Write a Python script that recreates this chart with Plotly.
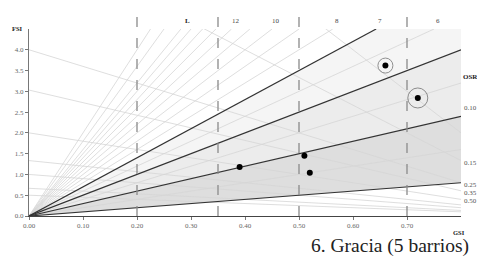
import plotly.graph_objects as go

# ---- data ----
gsi_max = 0.8
fsi_max = 4.5
dark_layers = [1, 3, 5, 7]                      # L lines bounding the shaded bands
light_layers = [2, 4, 6, 8, 9, 10, 11, 12, 13, 14, 15, 16, 18, 20]
top_labels = ["12", "10", "8", "7", "6"]
top_label_layers = [12, 10, 8, 7, 6]
osr_lines = [0.10, 0.15, 0.25, 0.33, 0.50, 0.75, 1.0, 1.5, 2.0]
osr_labels = ["0.10", "0.15", "0.25", "0.35", "0.50"]
dashed_gsi = [0.20, 0.35, 0.50, 0.70]
band_colors = ["#dedede", "#ececec", "#f5f5f5"]  # 1-3, 3-5, 5-7

pts_gsi = [0.39, 0.51, 0.52, 0.66, 0.72]
pts_fsi = [1.18, 1.45, 1.04, 3.62, 2.84]
circled_gsi = [0.66, 0.72]
circled_fsi = [3.62, 2.84]
circled_size = [15, 20]

x_ticks = [0.0, 0.1, 0.2, 0.3, 0.4, 0.5, 0.6, 0.7]
y_ticks = [0.0, 0.5, 1.0, 1.5, 2.0, 2.5, 3.0, 3.5, 4.0]

title_text = "6. Gracia (5 barrios)"

SERIF = "Liberation Serif, Times New Roman, serif"

W, H = 477, 260
ML, MR, MT, MB = 29, 16, 29, 44
PW, PH = W - ML - MR, H - MT - MB


def exit_point(L):
    g = fsi_max / L
    if g <= gsi_max:
        return (g, fsi_max)
    return (gsi_max, gsi_max * L)


fig = go.Figure()

# shaded bands
for i in range(len(dark_layers) - 1):
    lo, hi = dark_layers[i], dark_layers[i + 1]
    ph, pl = exit_point(hi), exit_point(lo)
    xs, ys = [0, ph[0]], [0, ph[1]]
    if ph[1] == fsi_max and pl[0] == gsi_max:
        xs.append(gsi_max); ys.append(fsi_max)
    xs += [pl[0], 0]; ys += [pl[1], 0]
    fig.add_trace(go.Scatter(x=xs, y=ys, fill="toself", fillcolor=band_colors[i],
                             line=dict(width=0), mode="lines", hoverinfo="skip"))

# light fan lines (layers)
for L in light_layers:
    p = exit_point(L)
    fig.add_trace(go.Scatter(x=[0, p[0]], y=[0, p[1]], mode="lines",
                             line=dict(color="#d6d6d6", width=0.8), hoverinfo="skip"))

# OSR lines
for o in osr_lines:
    fig.add_trace(go.Scatter(x=[0, gsi_max], y=[1 / o, (1 - gsi_max) / o], mode="lines",
                             line=dict(color="#d6d6d6", width=0.8), hoverinfo="skip"))

# dark layer lines
for L in dark_layers:
    p = exit_point(L)
    fig.add_trace(go.Scatter(x=[0, p[0]], y=[0, p[1]], mode="lines",
                             line=dict(color="#333333", width=1.2), hoverinfo="skip"))

# circles around points
fig.add_trace(go.Scatter(x=circled_gsi, y=circled_fsi, mode="markers",
                         marker=dict(size=circled_size, color="rgba(0,0,0,0)",
                                     line=dict(color="#555555", width=0.9)),
                         hoverinfo="skip"))
# points
fig.add_trace(go.Scatter(x=pts_gsi, y=pts_fsi, mode="markers",
                         marker=dict(size=6, color="#000000")))

shapes = []
for g in dashed_gsi:
    shapes.append(dict(type="line", xref="x", yref="paper", x0=g, x1=g, y0=0, y1=1.10,
                       line=dict(color="#8a8a8a", width=1.3, dash="10px,11px")))

annotations = []
for lab, L in zip(top_labels, top_label_layers):
    p = exit_point(L)
    annotations.append(dict(x=p[0] + 0.008, y=fsi_max, xref="x", yref="y", text=lab,
                            showarrow=False, yshift=8, font=dict(family=SERIF, size=7, color="#444")))
annotations.append(dict(x=0.293, y=fsi_max, xref="x", yref="y", text="<b>L</b>",
                        showarrow=False, yshift=8, font=dict(family=SERIF, size=7, color="#222")))

for i, lab in enumerate(osr_labels):
    o = osr_lines[i]
    annotations.append(dict(x=gsi_max, y=(1 - gsi_max) / o, xref="x", yref="y", text=lab,
                            showarrow=False, xanchor="left", xshift=1,
                            yshift=(25 if i == 0 else -2),
                            font=dict(family=SERIF, size=7, color="#555")))
annotations.append(dict(x=gsi_max, y=3.35, xref="x", yref="y", text="<b>OSR</b>",
                        showarrow=False, xanchor="left", xshift=0,
                        font=dict(family=SERIF, size=7, color="#222")))
annotations.append(dict(x=0, y=fsi_max, xref="x", yref="y", text="<b>FSI</b>",
                        showarrow=False, xanchor="right", xshift=-4, yshift=1,
                        font=dict(family=SERIF, size=6.5, color="#222")))
annotations.append(dict(x=gsi_max, y=0, xref="x", yref="y", text="<b>GSI</b>",
                        showarrow=False, xanchor="center", xshift=-2, yshift=-16,
                        font=dict(family=SERIF, size=6.5, color="#222")))
# title: right edge at x=471 px, centre at y=246 px
annotations.append(dict(x=(471 - ML) / PW, y=(H - MB - 246) / PH,
                        xref="paper", yref="paper", text=title_text,
                        showarrow=False, xanchor="right", yanchor="middle",
                        font=dict(family=SERIF, size=19.5, color="#222")))

fig.update_layout(
    width=W, height=H,
    margin=dict(l=ML, r=MR, t=MT, b=MB, pad=0),
    paper_bgcolor="white", plot_bgcolor="white",
    showlegend=False,
    shapes=shapes,
    annotations=annotations,
    xaxis=dict(range=[0, gsi_max], tickvals=x_ticks, ticktext=[f"{v:.2f}" for v in x_ticks],
               showgrid=False, zeroline=False, showline=True, linecolor="#444", linewidth=1,
               ticks="outside", ticklen=3, tickcolor="#777", tickwidth=0.8,
               tickfont=dict(family=SERIF, size=7, color="#666")),
    yaxis=dict(range=[0, fsi_max], tickvals=y_ticks, ticktext=[f"{v:.1f}" for v in y_ticks],
               showgrid=False, zeroline=False, showline=True, linecolor="#777", linewidth=1,
               ticks="outside", ticklen=3, tickcolor="#777", tickwidth=0.8,
               tickfont=dict(family=SERIF, size=7, color="#666")),
)

fig.write_html("out.html", config={"displayModeBar": False},
               post_script="document.body.style.margin='0';document.body.style.overflow='hidden';")
